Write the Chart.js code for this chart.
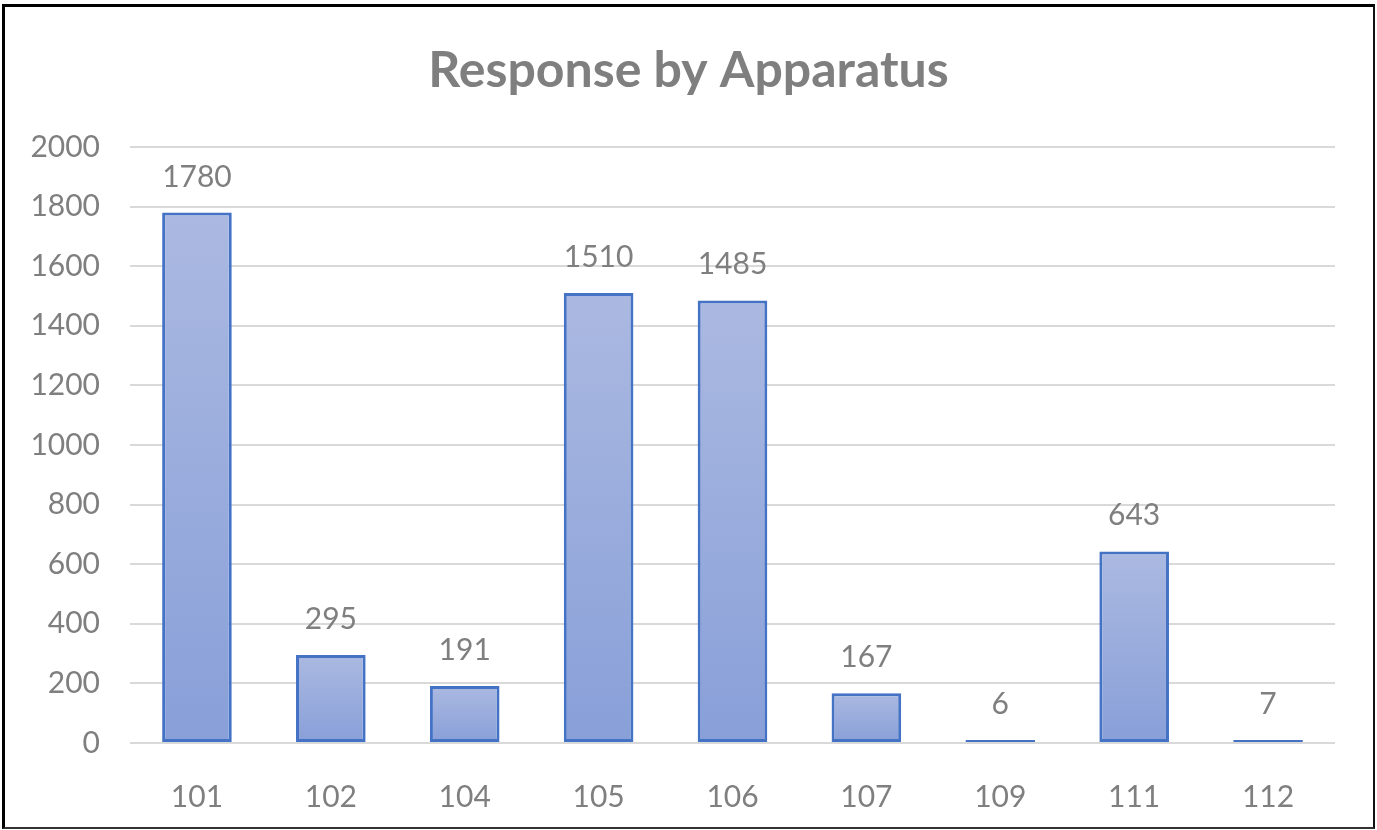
<!DOCTYPE html>
<html>
<head>
<meta charset="utf-8">
<script src="https://cdn.jsdelivr.net/npm/chart.js@4/dist/chart.umd.min.js"></script>
<style>
  html, body { margin: 0; padding: 0; background: #fff; }
  #wrap { position: relative; width: 1377px; height: 830px; overflow: hidden; }
  #frame {
    position: absolute; left: 2px; top: 4px; right: 2px; bottom: 1px;
    border-left: 3px solid #000; border-top: 3px solid #000;
    border-right: 2px solid #111; border-bottom: 2px solid #333;
    pointer-events: none;
  }
</style>
</head>
<body>
<div id="wrap">
  <canvas id="chart" width="1377" height="830"></canvas>
  <div id="frame"></div>
</div>
<script>
// =================== DATA ===================
const apparatus = ["101", "102", "104", "105", "106", "107", "109", "111", "112"];
const responses = [1780, 295, 191, 1510, 1485, 167, 6, 643, 7];
const yTicks = [0, 200, 400, 600, 800, 1000, 1200, 1400, 1600, 1800, 2000];

const GREY = "#7f7f7f";
const FONT = "Lato, 'Open Sans', sans-serif";

// per-bar vertical gradient, light at top, darker at bottom
function barFill(c) {
  const chart = c.chart;
  const y = chart.scales.y;
  if (!y || !chart.chartArea) return "#99acdc";
  const top = y.getPixelForValue(c.raw);
  const bottom = y.getPixelForValue(0);
  if (!isFinite(top) || !isFinite(bottom) || bottom - top < 4) return "#99acdc";
  const g = chart.ctx.createLinearGradient(0, top, 0, bottom);
  g.addColorStop(0, "#abb9e1");
  g.addColorStop(1, "#889fd8");
  return g;
}

// value labels above each bar
const valueLabels = {
  id: "valueLabels",
  afterDatasetsDraw(chart) {
    const ctx = chart.ctx;
    const meta = chart.getDatasetMeta(0);
    ctx.save();
    ctx.font = "30px " + FONT;
    ctx.fillStyle = GREY;
    ctx.textAlign = "center";
    ctx.textBaseline = "alphabetic";
    meta.data.forEach((bar, i) => {
      ctx.fillText(String(responses[i]), bar.x, bar.y - 26);
    });
    ctx.restore();
  },
};

new Chart(document.getElementById("chart"), {
  type: "bar",
  data: {
    labels: apparatus,
    datasets: [
      {
        label: "Responses",
        data: responses,
        backgroundColor: barFill,
        borderColor: "#4472c4",
        borderWidth: 3,
        borderSkipped: false,
        minBarLength: 3,
        categoryPercentage: 1,
        barPercentage: 0.52,
      },
    ],
  },
  options: {
    responsive: false,
    animation: false,
    layout: { padding: 0 },
    plugins: {
      legend: { display: false },
      tooltip: { enabled: false },
      title: {
        display: true,
        text: "Response by Apparatus",
        color: GREY,
        font: { family: FONT, size: 50, weight: "bold", lineHeight: 1.2 },
        padding: { top: 41, bottom: 46 },
      },
    },
    scales: {
      x: {
        grid: { display: false },
        border: { display: false },
        ticks: {
          color: GREY,
          font: { family: FONT, size: 30 },
          padding: 28,
          maxRotation: 0,
        },
        afterFit: (s) => { s.height = 87; },
      },
      y: {
        min: 0,
        max: 2000,
        afterBuildTicks: (s) => { s.ticks = yTicks.map((v) => ({ value: v })); },
        grid: { color: "#d9d9d9", lineWidth: 2, drawTicks: false },
        border: { display: false },
        ticks: {
          color: GREY,
          font: { family: FONT, size: 30 },
          padding: 30,
          callback: (v) => String(v),
        },
        afterFit: (s) => { s.width = 130; },
      },
      // empty right axis only to reserve the right margin
      y2: {
        position: "right",
        grid: { display: false },
        border: { display: false },
        ticks: { display: false },
        afterFit: (s) => { s.width = 42; },
      },
    },
  },
  plugins: [valueLabels],
});
</script>
</body>
</html>
